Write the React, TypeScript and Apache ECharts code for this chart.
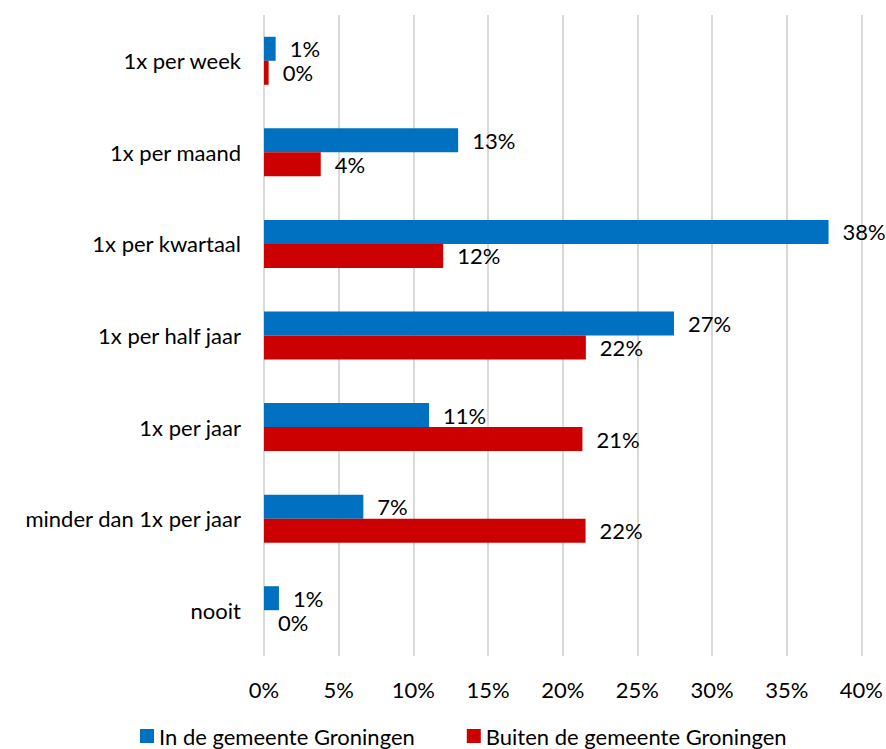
import React, { useEffect, useRef } from "react";
import * as echarts from "echarts";

const categories = [
  "1x per week",
  "1x per maand",
  "1x per kwartaal",
  "1x per half jaar",
  "1x per jaar",
  "minder dan 1x per jaar",
  "nooit",
];
const seriesNames = ["In de gemeente Groningen", "Buiten de gemeente Groningen"];
const inGemeente = [0.78, 13.0, 37.8, 27.45, 11.05, 6.65, 1.0];
const buitenGemeente = [0.31, 3.8, 12.0, 21.55, 21.32, 21.53, 0];
const xTicks = [0, 5, 10, 15, 20, 25, 30, 35, 40];

const FONT = "Lato, 'Open Sans', sans-serif";
const FS = 22;

export default function App() {
  const ref = useRef<HTMLDivElement>(null);
  useEffect(() => {
    if (!ref.current) return;
    const chart = echarts.init(ref.current, undefined, { renderer: "svg" });
    const label = {
      show: true,
      position: "right",
      distance: 14,
      color: "#000",
      fontSize: FS,
      fontFamily: FONT,
      formatter: (p: any) => Math.round(p.value) + "%",
    };
    chart.setOption({
      animation: false,
      textStyle: { fontFamily: FONT },
      grid: { left: 264, right: 24.5, top: 15, bottom: 93, containLabel: false },
      xAxis: {
        type: "value",
        min: xTicks[0],
        max: xTicks[xTicks.length - 1],
        interval: 5,
        axisLine: { show: false },
        axisTick: { show: false },
        splitLine: { show: true, lineStyle: { color: "#d9d9d9", width: 2 } },
        axisLabel: {
          color: "#000",
          fontSize: FS,
          fontFamily: FONT,
          margin: 22,
          formatter: (v: number) => v + "%",
        },
      },
      yAxis: {
        type: "category",
        data: categories,
        inverse: true,
        axisLine: { show: false },
        axisTick: { show: false },
        splitLine: { show: false },
        axisLabel: { color: "#000", fontSize: FS, fontFamily: FONT, margin: 23 },
      },
      legend: {
        top: 720,
        left: 135,
        itemWidth: 14,
        itemHeight: 14,
        itemGap: 52,
        icon: "rect",
        textStyle: { color: "#000", fontSize: FS, fontFamily: FONT },
        data: seriesNames,
      },
      series: [
        {
          name: seriesNames[0],
          type: "bar",
          data: inGemeente,
          barWidth: 24,
          barGap: "0%",
          barCategoryGap: "47.5%",
          itemStyle: { color: "#0070C0" },
          label,
        },
        {
          name: seriesNames[1],
          type: "bar",
          data: buitenGemeente,
          barWidth: 24,
          barGap: "0%",
          barCategoryGap: "47.5%",
          itemStyle: { color: "#CC0000" },
          label,
        },
      ],
    });
    return () => chart.dispose();
  }, []);
  return <div ref={ref} style={{ width: 886, height: 749, position: "absolute", left: 0, top: 0 }} />;
}
